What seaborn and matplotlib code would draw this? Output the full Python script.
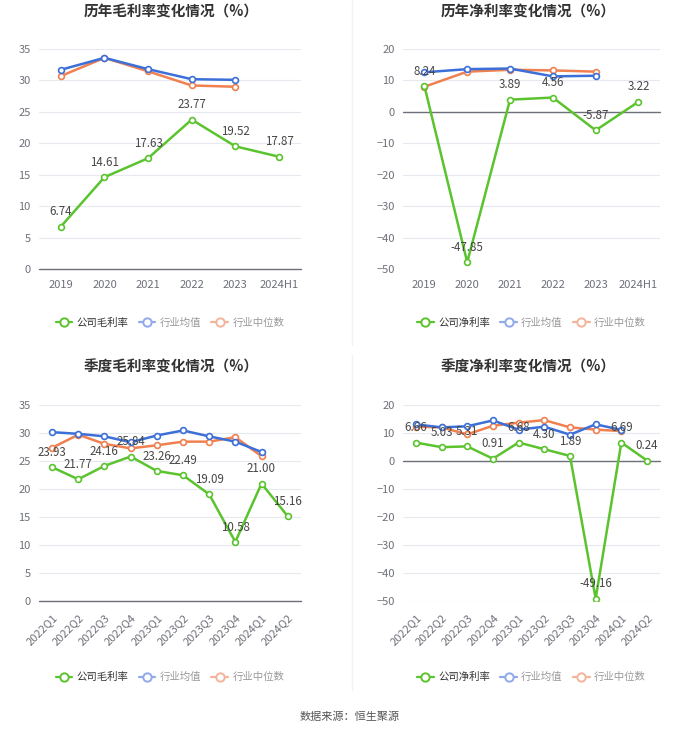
import matplotlib
matplotlib.use("Agg")
import matplotlib.pyplot as plt
import seaborn as sns
import pandas as pd
from matplotlib.lines import Line2D

years = ["2019", "2020", "2021", "2022", "2023", "2024H1"]
quarters = ["2022Q1", "2022Q2", "2022Q3", "2022Q4", "2023Q1",
            "2023Q2", "2023Q3", "2023Q4", "2024Q1", "2024Q2"]

# annual gross margin
gross_company = [6.74, 14.61, 17.63, 23.77, 19.52, 17.87]
gross_ind_avg = [31.7, 33.6, 31.8, 30.2, 30.1]
gross_ind_med = [30.7, 33.6, 31.45, 29.2, 29.0]

# annual net margin
net_company = [8.24, -47.85, 3.89, 4.56, -5.87, 3.22]
net_ind_avg = [12.6, 13.6, 13.8, 11.3, 11.5]
net_ind_med = [8.0, 12.8, 13.4, 13.2, 12.8]

# quarterly gross margin
q_gross_company = [23.93, 21.77, 24.16, 25.84, 23.26, 22.49, 19.09, 10.58, 21.00, 15.16]
q_gross_ind_avg = [30.2, 29.9, 29.45, 28.4, 29.6, 30.5, 29.45, 28.5, 26.65]
q_gross_ind_med = [27.4, 29.75, 28.1, 27.3, 27.85, 28.5, 28.5, 29.3, 25.9]

# quarterly net margin
q_net_company = [6.66, 5.03, 5.31, 0.91, 6.68, 4.30, 1.89, -49.16, 6.69, 0.24]
q_net_ind_avg = [13.2, 12.1, 12.5, 14.6, 11.3, 12.35, 9.5, 13.2, 11.2]
q_net_ind_med = [12.35, 12.1, 9.6, 12.7, 13.8, 14.7, 12.1, 11.3, 10.8]

GREEN = "#5BC32E"
BLUE = "#3C6FD8"
ORANGE = "#F0804F"

sns.set_style("white")
plt.rcParams["font.family"] = ["Noto Sans CJK SC", "DejaVu Sans"]


def long_frame(company, avg, med, company_name):
    rows = []
    for name, vals in [(company_name, company), ("行业均值", avg), ("行业中位数", med)]:
        for i, v in enumerate(vals):
            rows.append({"x": i, "value": v, "series": name})
    return pd.DataFrame(rows)


def draw_panel(ax, cats, company, avg, med, company_name, ylim, yticks, rotate):
    df = long_frame(company, avg, med, company_name)
    palette = {company_name: GREEN, "行业均值": BLUE, "行业中位数": ORANGE}
    sns.lineplot(data=df, x="x", y="value", hue="series", palette=palette,
                 hue_order=["行业中位数", "行业均值", company_name],
                 marker="o", markersize=4.2, markerfacecolor="white",
                 markeredgewidth=1.2, linewidth=1.8, ax=ax, legend=False)
    for line in ax.lines:
        line.set_markeredgecolor(line.get_color())

    for i, v in enumerate(company):
        ax.annotate(f"{v:.2f}", (i, v), xytext=(0, 6), textcoords="offset points",
                    ha="center", va="bottom", fontsize=8.3, color="#464646")

    ax.set_xlim(-0.5, len(cats) - 0.5)
    ax.set_ylim(*ylim)
    ax.set_yticks(yticks)
    ax.set_xticks(range(len(cats)))
    if rotate:
        ax.set_xticklabels(cats, rotation=45, ha="right", rotation_mode="anchor")
    else:
        ax.set_xticklabels(cats)
    ax.set_xlabel("")
    ax.set_ylabel("")
    ax.tick_params(axis="both", labelsize=8, colors="#6E7079", length=0, pad=6)
    ax.tick_params(axis="x", length=4, color="#6E7079", width=0.8, pad=4)
    ax.yaxis.grid(True, color="#E6E9F0", linewidth=0.8)
    ax.set_axisbelow(True)
    for s in ["top", "right", "left", "bottom"]:
        ax.spines[s].set_visible(False)
    ax.axhline(0, color="#6E7079", linewidth=1, zorder=1.5, clip_on=False)

    handles = [
        Line2D([0], [0], color=GREEN, marker="o", markerfacecolor="white", markersize=6,
               markeredgewidth=1.4, linewidth=1.6),
        Line2D([0], [0], color="#8FA9EA", marker="o", markerfacecolor="white", markersize=6,
               markeredgewidth=1.4, linewidth=1.6),
        Line2D([0], [0], color="#F5B49A", marker="o", markerfacecolor="white", markersize=6,
               markeredgewidth=1.4, linewidth=1.6),
    ]
    leg = ax.legend(handles, [company_name, "行业均值", "行业中位数"], loc="upper center",
                    bbox_to_anchor=(0.5, -0.18 if not rotate else -0.315), ncol=3,
                    frameon=False, fontsize=7.5, handlelength=1.6, handletextpad=0.4,
                    columnspacing=1.0)
    for t, c in zip(leg.get_texts(), ["#333333", "#999999", "#999999"]):
        t.set_color(c)


fig = plt.figure(figsize=(7.0, 7.34), dpi=100)

ax1 = fig.add_axes([0.0557, 0.6335, 0.374, 0.2997])
ax2 = fig.add_axes([0.5757, 0.6335, 0.367, 0.2997])
ax3 = fig.add_axes([0.0557, 0.1812, 0.374, 0.2666])
ax4 = fig.add_axes([0.5757, 0.1812, 0.367, 0.2666])

draw_panel(ax1, years, gross_company, gross_ind_avg, gross_ind_med, "公司毛利率",
           (0, 35), range(0, 36, 5), False)
draw_panel(ax2, years, net_company, net_ind_avg, net_ind_med, "公司净利率",
           (-50, 20), range(-50, 21, 10), False)
draw_panel(ax3, quarters, q_gross_company, q_gross_ind_avg, q_gross_ind_med, "公司毛利率",
           (0, 35), range(0, 36, 5), True)
draw_panel(ax4, quarters, q_net_company, q_net_ind_avg, q_net_ind_med, "公司净利率",
           (-50, 20), range(-50, 21, 10), True)

titles = [("历年毛利率变化情况（%）", 0.245, 12), ("历年净利率变化情况（%）", 0.755, 12),
          ("季度毛利率变化情况（%）", 0.245, 367), ("季度净利率变化情况（%）", 0.755, 367)]
for text, x, y in titles:
    fig.text(x, 1 - y / 734, text, ha="center", va="center", fontsize=10.5,
             fontweight="bold", color="#333333")

fig.add_artist(Line2D([0.503, 0.503], [1 - 0 / 734, 1 - 345 / 734], color="#F2F2F2", linewidth=1))
fig.add_artist(Line2D([0.503, 0.503], [1 - 355 / 734, 1 - 690 / 734], color="#F2F2F2", linewidth=1))

fig.text(0.5, 1 - 717 / 734, "数据来源：恒生聚源", ha="center", va="center",
         fontsize=8, color="#555555")

fig.savefig("out.png", dpi=100, facecolor="white")
